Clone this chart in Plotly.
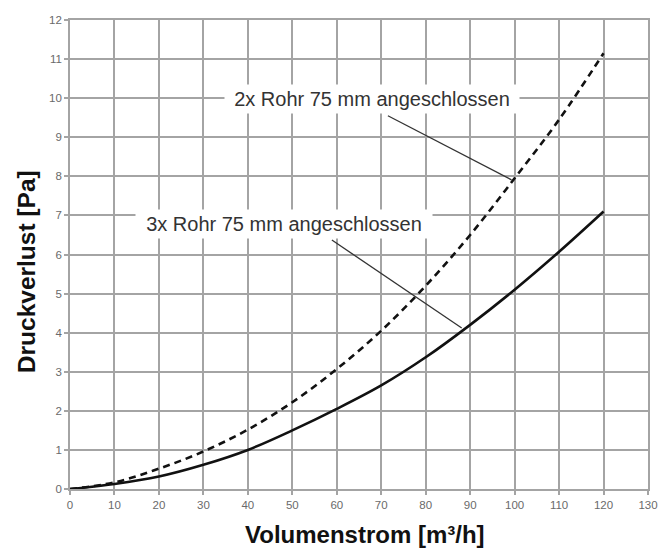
import plotly.graph_objects as go

# Data
volumenstrom = [0, 10, 20, 30, 40, 50, 60, 70, 80, 90, 100, 110, 120]
druck_2x = [0, 0.17, 0.52, 0.96, 1.52, 2.22, 3.07, 4.05, 5.2, 6.5, 7.95, 9.45, 11.15]
druck_3x = [0, 0.13, 0.32, 0.62, 1.0, 1.5, 2.05, 2.65, 3.37, 4.2, 5.1, 6.07, 7.1]

x_ticks = list(range(0, 131, 10))
y_ticks = list(range(0, 13, 1))

label_2x = "2x Rohr 75 mm angeschlossen"
label_3x = "3x Rohr 75 mm angeschlossen"

FONT = "Liberation Sans, Arial, sans-serif"
GRID = "#a4a4a4"

fig = go.Figure()
fig.add_trace(go.Scatter(x=volumenstrom, y=druck_2x, mode="lines",
                         line=dict(color="#111111", width=2.6, dash="7px,5px", shape="spline"),
                         showlegend=False, hoverinfo="skip"))
fig.add_trace(go.Scatter(x=volumenstrom, y=druck_3x, mode="lines",
                         line=dict(color="#111111", width=2.6, shape="spline"),
                         showlegend=False, hoverinfo="skip"))

# leader lines
fig.add_shape(type="line", x0=71.5, y0=9.55, x1=99.3, y1=7.91,
              line=dict(color="#333333", width=1.3))
fig.add_shape(type="line", x0=58.9, y0=6.37, x1=88.1, y1=4.12,
              line=dict(color="#333333", width=1.3))

fig.add_annotation(x=67.9, y=9.98, text=label_2x, showarrow=False,
                   font=dict(family=FONT, size=20, color="#333333"),
                   bgcolor="white", width=294, height=28, borderpad=0)
fig.add_annotation(x=48.1, y=6.78, text=label_3x, showarrow=False,
                   font=dict(family=FONT, size=20, color="#333333"),
                   bgcolor="white", width=296, height=28, borderpad=0)

# axis titles as annotations
fig.add_annotation(xref="paper", yref="paper", x=0.5105, y=-0.097, yanchor="middle",
                   text="<b>Volumenstrom [m³/h]</b>", showarrow=False,
                   font=dict(family=FONT, size=24, color="#111111"))
fig.add_annotation(xref="paper", yref="paper", x=-0.075, y=0.4637, xanchor="center", yanchor="middle",
                   text="<b>Druckverlust [Pa]</b>", showarrow=False, textangle=-90,
                   font=dict(family=FONT, size=24.5, color="#111111"))

axis_common = dict(showgrid=True, gridcolor=GRID, gridwidth=1.6, automargin=False,
                   zeroline=False, showline=True, linecolor=GRID, linewidth=1.6, mirror=True,
                   ticks="outside", ticklen=4, tickcolor=GRID, tickwidth=1.6,
                   tickfont=dict(family=FONT, size=11.5, color="#6a6a6a"))
fig.update_xaxes(range=[0, 130], tickvals=x_ticks, **axis_common)
fig.update_yaxes(range=[0, 12], tickvals=y_ticks, **axis_common)

fig.update_layout(width=660, height=557, margin=dict(l=70, r=12, t=20, b=68, autoexpand=False),
                  plot_bgcolor="white", paper_bgcolor="white",
                  font=dict(family=FONT))

# remove the default page margin so the figure fills the window exactly
fig.write_html("out.html", config={"displayModeBar": False},
               post_script="document.body.style.margin='0';document.body.style.overflow='hidden';")
